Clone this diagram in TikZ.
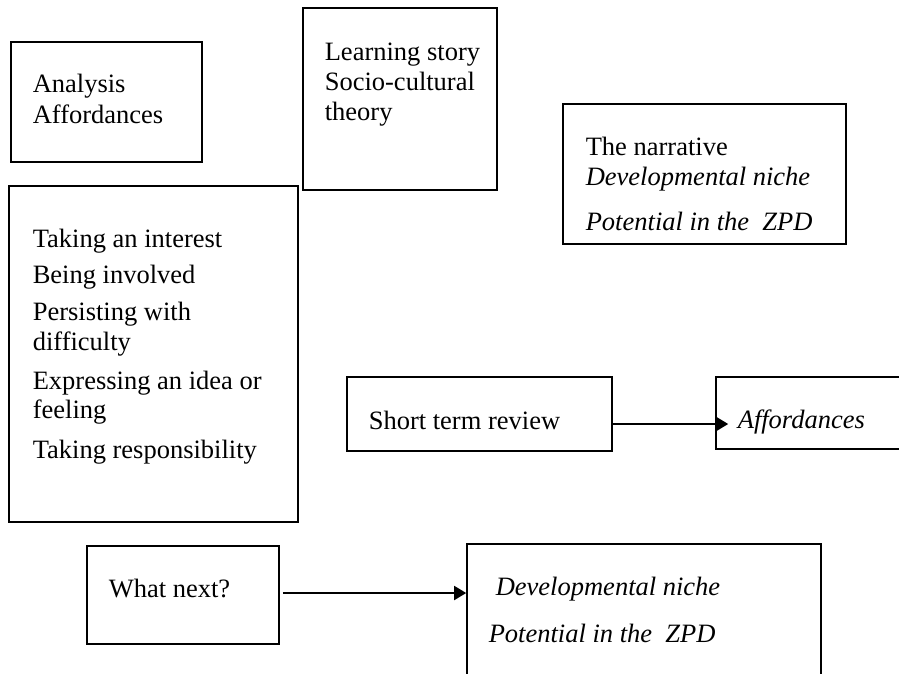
\documentclass[tikz,border=0pt]{standalone}
\usepackage{fontspec}
\setmainfont{Liberation Serif}
\usetikzlibrary{arrows.meta}

\tikzset{every picture/.style={line width=1.6pt}}
\tikzset{
  box/.style={draw, rectangle, inner sep=0pt},
  txt/.style={anchor=base west, inner sep=0pt, font=\fontsize{26.5}{30}\selectfont},
  itxt/.style={txt, font=\fontsize{26.5}{30}\selectfont\itshape},
  link/.style={-{Triangle[length=12pt,width=14pt]}, line width=1.8pt}
}

\begin{document}
\begin{tikzpicture}[x=1pt,y=1pt,yscale=-1,xscale=1]
\useasboundingbox (0,0) rectangle (899,673);

%Shape: Rectangle [id:analysis]
\node [box, minimum width=191, minimum height=120] (analysis) at (106.5,102) {};
%Shape: Rectangle [id:learning]
\node [box, minimum width=194, minimum height=182] (learning) at (400,99) {};
%Shape: Rectangle [id:narrative]
\node [box, minimum width=283, minimum height=140] (narrative) at (704.5,174) {};
%Shape: Rectangle [id:list]
\node [box, minimum width=289, minimum height=336] (list) at (153.5,354) {};
%Shape: Rectangle [id:short]
\node [box, minimum width=265, minimum height=74] (short) at (479.5,414) {};
%Shape: Rectangle [id:aff]
\node [box, minimum width=214, minimum height=72] (aff) at (823,413) {};
%Shape: Rectangle [id:next]
\node [box, minimum width=192, minimum height=98] (next) at (183,595) {};
%Shape: Rectangle [id:dev]
\node [box, minimum width=354, minimum height=156] (dev) at (644,622) {};

% Text Node
\node [txt] (analysisA) at (32,92) {Analysis};
% Text Node
\node [txt] (analysisB) at (32,123) {Affordances};
% Text Node
\node [txt] (learningA) at (324,60) {Learning story};
% Text Node
\node [txt] (learningB) at (324,90) {Socio-cultural};
% Text Node
\node [txt] (learningC) at (324,120) {theory};
% Text Node
\node [txt] (narrativeA) at (585,155) {The narrative};
% Text Node
\node [itxt] (narrativeB) at (585,185) {Developmental niche};
% Text Node
\node [itxt] (narrativeC) at (585,230) {Potential in the\ \ ZPD};
% Text Node
\node [txt] (listA) at (32,247) {Taking an interest};
% Text Node
\node [txt] (listB) at (32,283) {Being involved};
% Text Node
\node [txt] (listC) at (32,320) {Persisting with};
% Text Node
\node [txt] (listD) at (32,350) {difficulty};
% Text Node
\node [txt] (listE) at (32,389) {Expressing an idea or};
% Text Node
\node [txt] (listF) at (32,418) {feeling};
% Text Node
\node [txt] (listG) at (32,458) {Taking responsibility};
% Text Node
\node [txt] (shortA) at (368,429) {Short term review};
% Text Node
\node [itxt] (affA) at (737,428) {Affordances};
% Text Node
\node [txt] (nextA) at (108,597) {What next?};
% Text Node
\node [itxt] (devA) at (495,595) {Developmental niche};
% Text Node
\node [itxt] (devB) at (488,642) {Potential in the\ \ ZPD};

% Connection
\draw [link, shorten >=-13pt] ([yshift=10pt]short.east) -- ([yshift=10pt]short.east -| aff.west);
% Connection
\draw [link, shorten <=3pt] ([yshift=-2pt]next.east) -- ([yshift=-2pt]next.east -| dev.west);

\end{tikzpicture}
\end{document}
